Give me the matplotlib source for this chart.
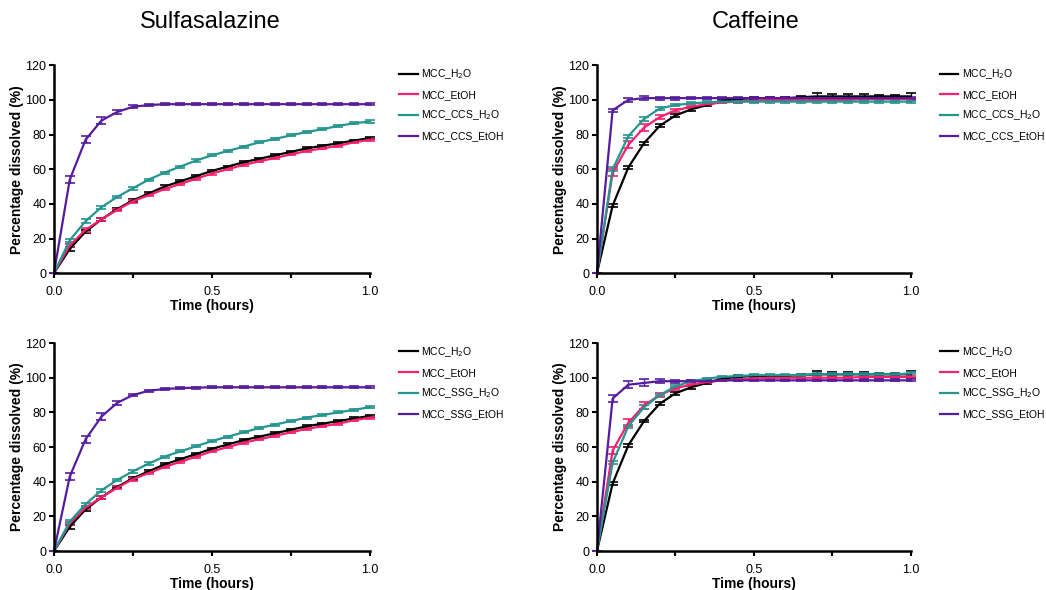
import matplotlib

matplotlib.use("Agg")
import matplotlib.pyplot as plt
from matplotlib.ticker import MultipleLocator, FormatStrFormatter

plt.rcParams["font.family"] = ["Liberation Sans", "DejaVu Sans"]

COLORS = ["#000000", "#F5206E", "#24958F", "#561C9E"]

time_h = [0.0, 0.05, 0.1, 0.15, 0.2, 0.25, 0.3, 0.35, 0.4, 0.45, 0.5,
          0.55, 0.6, 0.65, 0.7, 0.75, 0.8, 0.85, 0.9, 0.95, 1.0]

# Sulfasalazine
sul_mcc_h2o = [0, 14, 24, 31, 37, 42, 46, 50, 53, 56, 59, 61.5, 64, 66, 68, 70, 72, 73.5, 75, 76.5, 78]
sul_mcc_etoh = [0, 16, 25, 31, 36.5, 41.5, 45, 48.5, 51.5, 54.5, 57.5, 60, 62.5, 64.5, 66.5, 68.5, 70.5, 72, 73.5, 75.5, 77]
sul_ccs_h2o = [0, 19, 30, 38, 44, 49, 54, 58, 61.5, 65, 68, 70.5, 73, 75.5, 77.5, 79.5, 81.5, 83, 85, 86.5, 87.5]
sul_ccs_etoh = [0, 54, 77, 88, 93, 96, 97, 97.5, 97.5, 97.5, 97.5, 97.5, 97.5, 97.5, 97.5, 97.5, 97.5, 97.5, 97.5, 97.5, 97.5]
sul_ssg_h2o = [0, 17, 27, 35, 41, 46, 50.5, 54.5, 57.5, 60.5, 63.5, 66, 68.5, 71, 73, 75, 77, 78.5, 80, 81.5, 83]
sul_ssg_etoh = [0, 43, 64.5, 77.5, 85.5, 90, 92.5, 93.5, 94, 94.3, 94.5, 94.5, 94.5, 94.5, 94.5, 94.5, 94.5, 94.5, 94.5, 94.5, 94.5]

# Caffeine
caf_mcc_h2o = [0, 39, 61, 75, 85, 91, 94.5, 97, 99.5, 100.5, 101, 101, 101, 101.5, 102, 102, 102, 102, 102, 102, 102]
caf_mcc_etoh = [0, 58, 74, 84, 90, 94, 96, 97.5, 98.5, 99, 99.5, 100, 100, 100, 100, 100, 100, 100.5, 100.5, 100.5, 100.5]
caf_ccs_h2o = [0, 60, 79, 89, 95, 97, 98, 98.5, 99, 99, 99, 99, 99, 99, 99, 99, 99, 99, 99, 99, 99]
caf_ccs_etoh = [0, 94, 100, 101, 101, 101, 101, 101, 101, 101, 101, 101, 101, 101, 101, 101, 101, 101, 101, 101, 101]
caf_ssg_h2o = [0, 51, 72, 83, 90, 95, 98, 99.5, 100.5, 101, 101.5, 101.5, 101.5, 101.5, 102, 102, 102, 102, 102, 102, 102.5]
caf_ssg_etoh = [0, 88, 96, 97, 98, 98, 98, 98, 98.5, 98.5, 98.5, 98.5, 98.5, 98.5, 98.5, 98.5, 98.5, 98.5, 98.5, 98.5, 98.5]

# standard deviations
sd_small = [0, 1, 1, 1, 0.8, 0.8, 0.6, 0.6, 0.6, 0.6, 0.6, 0.6, 0.6, 0.6, 0.6, 0.6, 0.6, 0.6, 0.6, 0.6, 0.6]
sd_fast = [0, 2, 2, 2, 1.2, 0.8, 0.6, 0.6, 0.6, 0.6, 0.6, 0.6, 0.6, 0.6, 0.6, 0.6, 0.6, 0.6, 0.6, 0.6, 0.6]
sd_caf_black = [0, 1, 1, 0.8, 0.8, 0.8, 0.8, 0.8, 0.8, 0.8, 0.8, 0.8, 0.8, 0.8, 2, 1.2, 1.2, 1.2, 1, 1, 2]

labels_ccs = ["MCC_H$_2$O", "MCC_EtOH", "MCC_CCS_H$_2$O", "MCC_CCS_EtOH"]
labels_ssg = ["MCC_H$_2$O", "MCC_EtOH", "MCC_SSG_H$_2$O", "MCC_SSG_EtOH"]


def draw_panel(ax, series, errs, labels):
    for y, e, c, lab in zip(series, errs, COLORS, labels):
        ax.errorbar(time_h, y, yerr=e, color=c, lw=1.6, capsize=3.5,
                    capthick=1.2, elinewidth=1.0, label=lab, clip_on=False)
    ax.set_xlim(0, 1.0)
    ax.set_ylim(0, 120)
    ax.spines["top"].set_visible(False)
    ax.spines["right"].set_visible(False)
    ax.spines["left"].set_linewidth(1.8)
    ax.spines["bottom"].set_linewidth(1.8)
    ax.xaxis.set_major_locator(MultipleLocator(0.5))
    ax.xaxis.set_minor_locator(MultipleLocator(0.25))
    ax.xaxis.set_major_formatter(FormatStrFormatter("%.1f"))
    ax.yaxis.set_major_locator(MultipleLocator(20))
    ax.tick_params(which="both", direction="out", width=1.5, labelsize=9, length=3.5)
    ax.tick_params(axis="y", which="both", pad=2)
    ax.tick_params(axis="x", which="both", pad=5.5)
    ax.set_xlabel("Time (hours)", fontsize=10, fontweight="bold", labelpad=1)
    ax.set_ylabel("Percentage dissolved (%)", fontsize=10, fontweight="bold")
    ax.yaxis.set_label_coords(-0.095, 0.5)
    handles, labs = ax.get_legend_handles_labels()
    handles = [h[0] for h in handles]
    ax.legend(handles, labs, loc="upper left", bbox_to_anchor=(1.062, 1.035),
              frameon=False, fontsize=7.5, handlelength=1.8, labelspacing=0.85,
              handletextpad=0.35)


fig = plt.figure(figsize=(10.46, 5.9), dpi=100)
ax_tl = fig.add_axes([0.0516, 0.537, 0.302, 0.3525])
ax_tr = fig.add_axes([0.5707, 0.537, 0.300, 0.3525])
ax_bl = fig.add_axes([0.0516, 0.066, 0.302, 0.3525])
ax_br = fig.add_axes([0.5707, 0.066, 0.300, 0.3525])

draw_panel(ax_tl, [sul_mcc_h2o, sul_mcc_etoh, sul_ccs_h2o, sul_ccs_etoh],
           [sd_small, sd_small, sd_small, sd_fast], labels_ccs)
draw_panel(ax_tr, [caf_mcc_h2o, caf_mcc_etoh, caf_ccs_h2o, caf_ccs_etoh],
           [sd_caf_black, sd_fast, sd_small, sd_small], labels_ccs)
draw_panel(ax_bl, [sul_mcc_h2o, sul_mcc_etoh, sul_ssg_h2o, sul_ssg_etoh],
           [sd_small, sd_small, sd_small, sd_fast], labels_ssg)
draw_panel(ax_br, [caf_mcc_h2o, caf_mcc_etoh, caf_ssg_h2o, caf_ssg_etoh],
           [sd_caf_black, sd_fast, sd_small, sd_fast], labels_ssg)

fig.text(0.201, 0.962, "Sulfasalazine", fontsize=17, ha="center", va="center")
fig.text(0.722, 0.962, "Caffeine", fontsize=17, ha="center", va="center")

fig.savefig("out.png", dpi=100)
plt.close(fig)
